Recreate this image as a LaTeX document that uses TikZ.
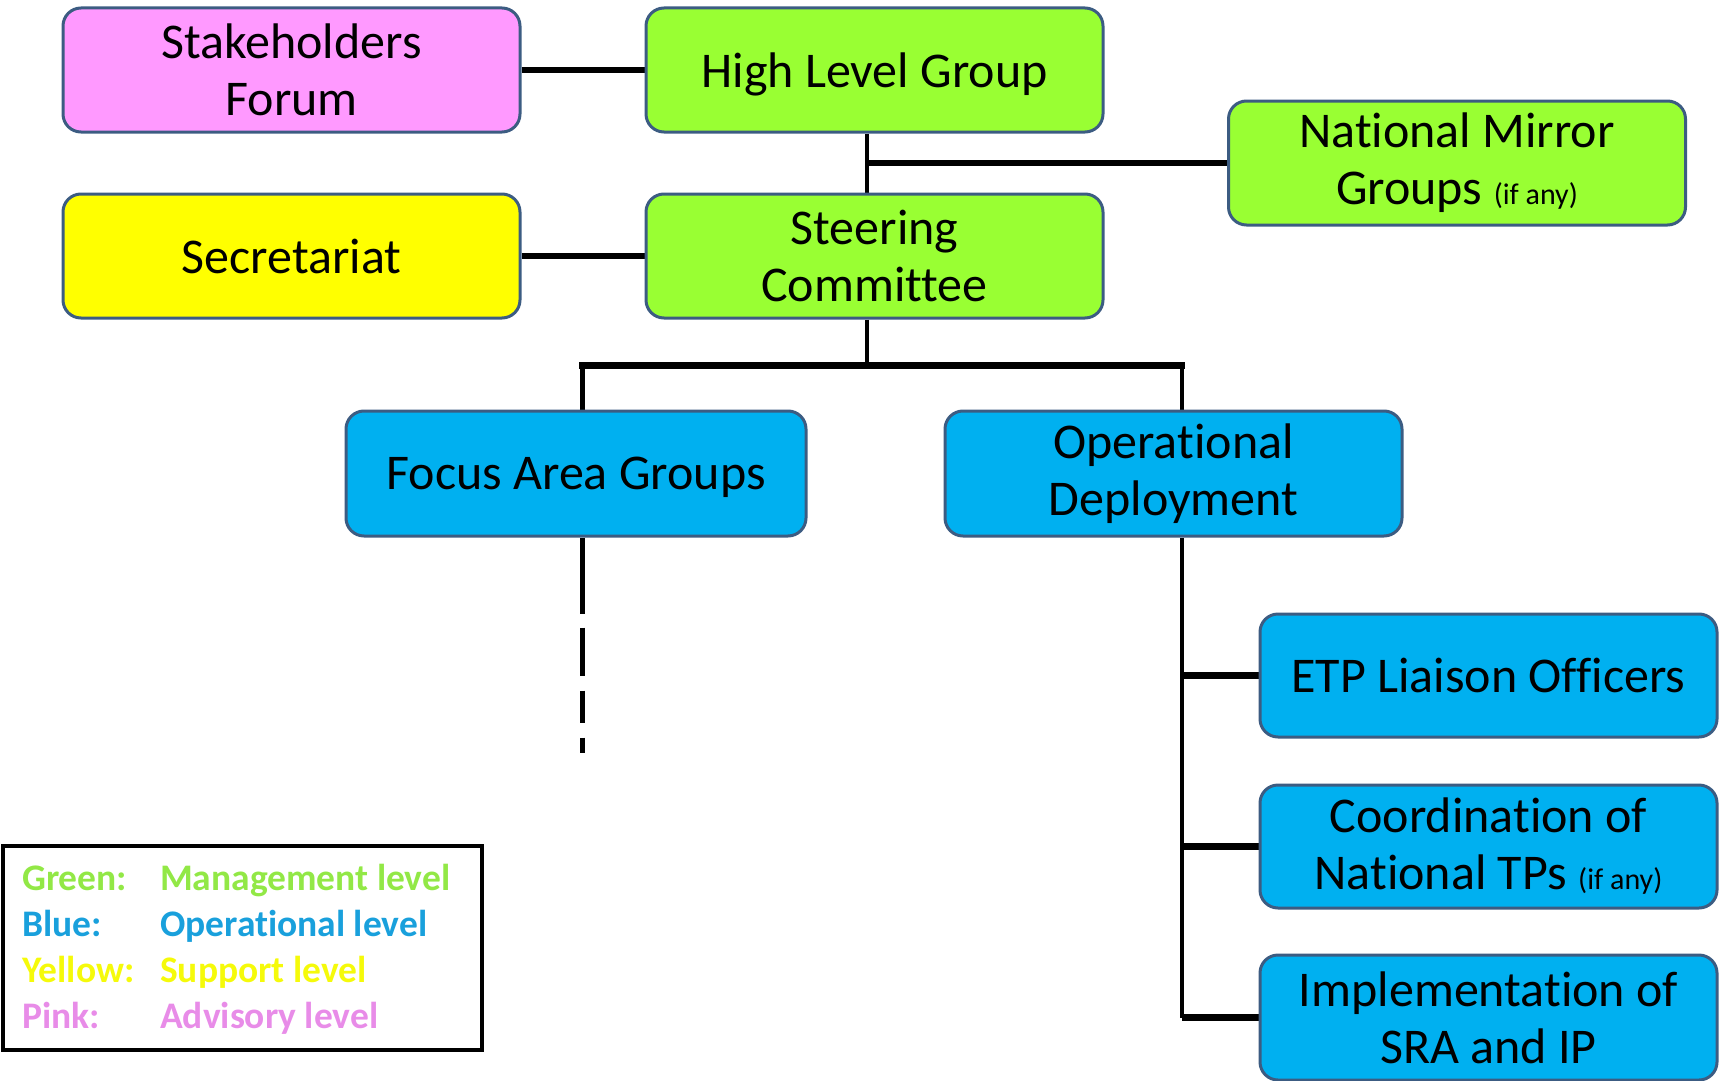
\documentclass[tikz,border=0pt]{standalone}
\usepackage{fontspec}
\setmainfont[Ligatures=NoCommon]{Carlito}
\usetikzlibrary{backgrounds}
\definecolor{gfill}{RGB}{153,255,51}
\definecolor{pfill}{RGB}{255,153,255}
\definecolor{yfill}{RGB}{255,255,0}
\definecolor{bfill}{RGB}{0,176,240}
\definecolor{bcol}{RGB}{60,92,130}
\definecolor{lgreen}{RGB}{146,232,70}
\definecolor{lblue}{RGB}{25,160,220}
\definecolor{lyellow}{RGB}{245,250,10}
\definecolor{lpink}{RGB}{232,140,232}
\newcommand{\ifany}{{\fontsize{30}{36}\selectfont (if any)}}
\begin{document}
\begin{tikzpicture}[x=1pt,y=-1pt,
  box/.style={draw=bcol,line width=3pt,rounded corners=18pt,align=center,
    minimum width=457pt,minimum height=124pt,inner sep=0pt,
    font=\fontsize{50}{57}\selectfont},
  hline/.style={line width=6.5pt,black},
  vline/.style={line width=4.5pt,black},
  legtext/.style={anchor=base west,inner sep=0pt,font=\bfseries\fontsize{37.5}{45}\selectfont}]
\useasboundingbox (0,0) rectangle (1719,1081);
% boxes
\node[box,fill=pfill] (SF) at (291.5,70) {Stakeholders\\Forum};
\node[box,fill=gfill,text depth=0pt] (HLG) at (874.5,70) {High Level Group};
\node[box,fill=gfill] (NMG) at (1457,163) {National Mirror\\Groups \ifany};
\node[box,fill=yfill] (SEC) at (291.5,256) {Secretariat};
\node[box,fill=gfill] (SC) at (874.5,256) {Steering\\Committee};
\node[box,fill=bfill,minimum width=460pt,minimum height=125pt,text depth=0pt] (FAG) at (576,473.5) {Focus Area Groups};
\node[box,fill=bfill,minimum height=125pt] (OD) at (1173.5,473.5) {Operational\\Deployment};
\node[box,fill=bfill,minimum height=123pt] (ETP) at (1488.5,675.5) {ETP Liaison Officers};
\node[box,fill=bfill,minimum height=123pt] (CNT) at (1488.5,846.5) {Coordination of\\National TPs \ifany};
\node[box,fill=bfill,minimum height=125pt] (IMP) at (1488.5,1017.5) {Implementation of\\SRA and IP};
% legend
\node[draw=black,line width=4pt,minimum width=479pt,minimum height=204pt,inner sep=0pt] (LEG) at (242.5,948) {};
\node[legtext,text=lgreen] (L1a) at (22,890) {Green:};
\node[legtext,text=lgreen] (L1b) at (160,890) {Management level};
\node[legtext,text=lblue] (L2a) at (22,936) {Blue:};
\node[legtext,text=lblue] (L2b) at (160,936) {Operational level};
\node[legtext,text=lyellow] (L3a) at (22,982) {Yellow:};
\node[legtext,text=lyellow] (L3b) at (160,982) {Support level};
\node[legtext,text=lpink] (L4a) at (22,1028) {Pink:};
\node[legtext,text=lpink] (L4b) at (160,1028) {Advisory level};
% connectors
\begin{scope}[on background layer]
\coordinate (v1) at ([xshift=-7.5pt]HLG.south);
\coordinate (v2) at ([xshift=-7.5pt]SC.north);
\coordinate (scb) at ([xshift=-7.5pt]SC.south);
\coordinate (jn) at ([yshift=-46pt]scb);
\coordinate (fagt) at ([xshift=6.5pt]FAG.north);
\coordinate (odt) at ([xshift=8.5pt]OD.north);
\coordinate (fagb) at ([xshift=6.5pt]FAG.south);
\coordinate (odb) at ([xshift=8.5pt]OD.south);
\coordinate (fagend) at ([yshift=-216pt]fagb);
\draw[hline] (SF.east) -- (HLG.west);
\draw[hline] (SEC.east) -- (SC.west);
\draw[vline] (v1) -- (v2);
\draw[hline] (v1 |- NMG.west) -- (NMG.west);
\draw[vline] (scb) -- (jn);
\draw[hline,line cap=rect] (fagt |- jn) -- (odt |- jn);
\draw[vline] (fagt |- jn) -- (fagt);
\draw[vline] (odt |- jn) -- (odt);
\draw[vline,dash pattern=on 76pt off 14pt on 48pt off 15pt on 32pt off 15pt on 15pt] (fagb) -- (fagend);
\draw[vline] (odb) -- (odb |- IMP.west);
\draw[hline] (odb |- ETP.west) -- (ETP.west);
\draw[hline] (odb |- CNT.west) -- (CNT.west);
\draw[hline] (odb |- IMP.west) -- (IMP.west);
\end{scope}
\end{tikzpicture}
\end{document}
